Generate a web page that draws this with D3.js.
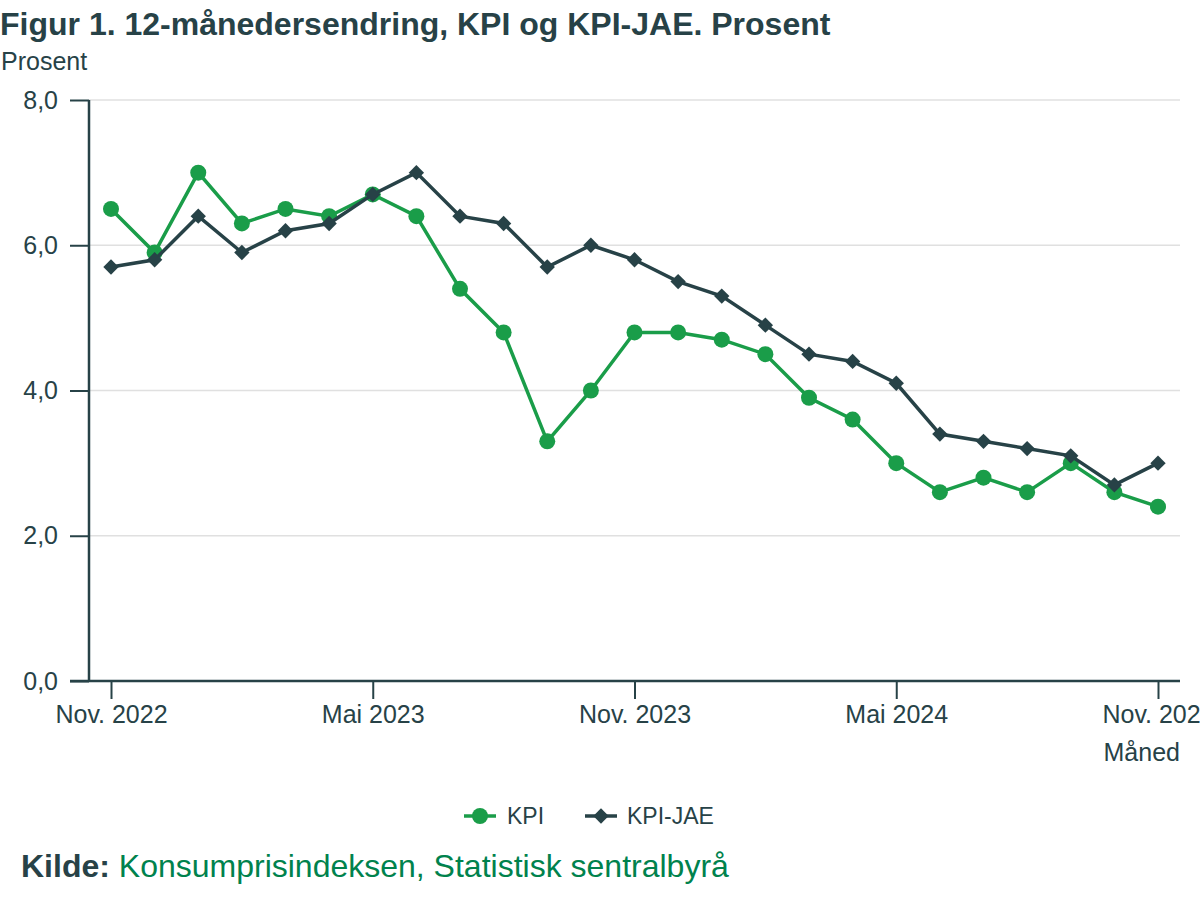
<!DOCTYPE html>
<html><head><meta charset="utf-8">
<script src="https://cdn.jsdelivr.net/npm/d3@7"></script>
<style>body{margin:0;background:#fff;} svg{display:block;font-family:Arial,"Liberation Sans",sans-serif;}</style>
</head><body>
<svg id="c" width="1200" height="900"></svg>
<script>
const months = ["Nov. 2022","Des. 2022","Jan. 2023","Feb. 2023","Mar. 2023","Apr. 2023","Mai 2023","Jun. 2023","Jul. 2023","Aug. 2023","Sep. 2023","Okt. 2023","Nov. 2023","Des. 2023","Jan. 2024","Feb. 2024","Mar. 2024","Apr. 2024","Mai 2024","Jun. 2024","Jul. 2024","Aug. 2024","Sep. 2024","Okt. 2024","Nov. 2024"];
const kpi = [6.5,5.9,7.0,6.3,6.5,6.4,6.7,6.4,5.4,4.8,3.3,4.0,4.8,4.8,4.7,4.5,3.9,3.6,3.0,2.6,2.8,2.6,3.0,2.6,2.4];
const kpiJae = [5.7,5.8,6.4,5.9,6.2,6.3,6.7,7.0,6.4,6.3,5.7,6.0,5.8,5.5,5.3,4.9,4.5,4.4,4.1,3.4,3.3,3.2,3.1,2.7,3.0];
const xTickLabels = ["Nov. 2022","Mai 2023","Nov. 2023","Mai 2024","Nov. 2024"];
const yTicks = [0,2,4,6,8];

const dark = "#274247", green = "#1a9d49";
const svg = d3.select("#c");
const x = d3.scalePoint().domain(months).range([111,1158]);
const y = d3.scaleLinear().domain([0,8]).range([681,100]);
const fmt = d => d3.format(".1f")(d).replace(".", ",");
const ff = "Arial,'Liberation Sans',sans-serif";

svg.append("text").attr("x",0).attr("y",35).attr("font-size",32).attr("font-weight","bold").attr("fill",dark)
  .text("Figur 1. 12-månedersendring, KPI og KPI-JAE. Prosent");
svg.append("text").attr("x",1).attr("y",70).attr("font-size",25).attr("fill",dark).text("Prosent");

// grid
svg.append("g").selectAll("line").data(yTicks.filter(d=>d>0)).join("line")
  .attr("x1",89).attr("x2",1180).attr("y1",d=>y(d)).attr("y2",d=>y(d))
  .attr("stroke","#e0e0e0").attr("stroke-width",1.5);

// y axis
const ya = svg.append("g").attr("transform","translate(89,0)")
  .call(d3.axisLeft(y).tickValues(yTicks).tickFormat(fmt).tickSize(19).tickPadding(12));
ya.select(".domain").remove();
ya.append("line").attr("y1",y(8)).attr("y2",y(0)).attr("stroke",dark).attr("stroke-width",2.5);
ya.selectAll(".tick line").attr("stroke",dark).attr("stroke-width",2);
ya.selectAll(".tick text").attr("fill",dark).attr("font-size",25).attr("font-family",ff);

// x axis
const xa = svg.append("g").attr("transform","translate(0,681)")
  .call(d3.axisBottom(x).tickValues(xTickLabels).tickSize(18).tickPadding(6));
xa.select(".domain").remove();
xa.append("line").attr("x1",70).attr("x2",1180).attr("stroke",dark).attr("stroke-width",2.5);
xa.selectAll(".tick line").attr("stroke",dark).attr("stroke-width",2);
xa.selectAll(".tick text").attr("fill",dark).attr("font-size",25).attr("font-family",ff);
svg.append("text").attr("x",1180).attr("y",761).attr("text-anchor","end").attr("font-size",25).attr("fill",dark).text("Måned");

const line = d3.line().x((d,i)=>x(months[i])).y(d=>y(d));
const diamond = d3.symbol().type(d3.symbolDiamond2).size(150);

function series(vals,color,type){
  const g = svg.append("g");
  g.append("path").datum(vals).attr("d",line).attr("fill","none").attr("stroke",color).attr("stroke-width",3.5);
  if(type==="circle"){
    g.selectAll("circle").data(vals).join("circle").attr("cx",(d,i)=>x(months[i])).attr("cy",d=>y(d)).attr("r",8).attr("fill",color);
  } else {
    g.selectAll("path.m").data(vals).join("path").attr("class","m").attr("d",diamond)
      .attr("transform",(d,i)=>`translate(${x(months[i])},${y(d)})`).attr("fill",color);
  }
}
series(kpi,green,"circle");
series(kpiJae,dark,"diamond");

// legend
const lg = svg.append("g");
lg.append("line").attr("x1",464).attr("x2",496).attr("y1",816).attr("y2",816).attr("stroke",green).attr("stroke-width",3.5);
lg.append("circle").attr("cx",480).attr("cy",816).attr("r",8).attr("fill",green);
lg.append("text").attr("x",507).attr("y",824).attr("font-size",23).attr("fill",dark).text("KPI");
lg.append("line").attr("x1",585).attr("x2",617).attr("y1",816).attr("y2",816).attr("stroke",dark).attr("stroke-width",3.5);
lg.append("path").attr("d",diamond).attr("transform","translate(601,816)").attr("fill",dark);
lg.append("text").attr("x",627).attr("y",824).attr("font-size",23).attr("fill",dark).text("KPI-JAE");

const src = svg.append("text").attr("x",21).attr("y",877).attr("font-size",32);
src.append("tspan").attr("font-weight","bold").attr("fill",dark).text("Kilde: ");
src.append("tspan").attr("fill","#00824d").text("Konsumprisindeksen, Statistisk sentralbyrå");
</script>
</body></html>
